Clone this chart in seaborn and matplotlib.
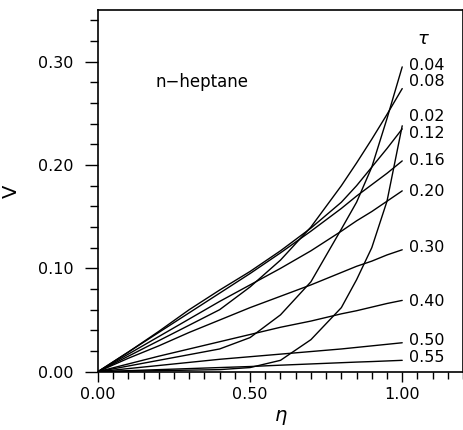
import matplotlib
matplotlib.use("Agg")
import matplotlib.pyplot as plt
from matplotlib.ticker import MultipleLocator, FormatStrFormatter
import pandas as pd
import seaborn as sns

# ==========================================
# DATA
# ==========================================
eta = [0.0, 0.1, 0.2, 0.3, 0.4, 0.5, 0.6, 0.7, 0.8, 0.85, 0.9, 0.95, 1.0]

v_002 = [0, 0.0005, 0.001, 0.0015, 0.002, 0.004, 0.011, 0.031, 0.062, 0.089, 0.120, 0.165, 0.238]
v_004 = [0, 0.0055, 0.011, 0.0165, 0.022, 0.033, 0.055, 0.087, 0.138, 0.164, 0.198, 0.245, 0.295]
v_008 = [0, 0.015, 0.030, 0.045, 0.060, 0.082, 0.108, 0.140, 0.180, 0.202, 0.225, 0.249, 0.274]
v_012 = [0, 0.019, 0.039, 0.060, 0.079, 0.097, 0.117, 0.139, 0.164, 0.180, 0.198, 0.216, 0.235]
v_016 = [0, 0.019, 0.038, 0.057, 0.076, 0.095, 0.115, 0.136, 0.158, 0.170, 0.181, 0.192, 0.204]
v_020 = [0, 0.017, 0.034, 0.051, 0.068, 0.084, 0.100, 0.117, 0.136, 0.146, 0.155, 0.165, 0.175]
v_030 = [0, 0.013, 0.025, 0.038, 0.050, 0.062, 0.073, 0.084, 0.096, 0.102, 0.107, 0.113, 0.118]
v_040 = [0, 0.0075, 0.015, 0.022, 0.029, 0.036, 0.043, 0.049, 0.056, 0.059, 0.0625, 0.066, 0.069]
v_050 = [0, 0.003, 0.006, 0.009, 0.012, 0.0145, 0.017, 0.0195, 0.022, 0.0235, 0.025, 0.0265, 0.028]
v_055 = [0, 0.001, 0.002, 0.003, 0.004, 0.005, 0.0063, 0.0075, 0.0087, 0.0093, 0.0098, 0.0104, 0.011]

tau_labels = ["0.02", "0.04", "0.08", "0.12", "0.16", "0.20", "0.30", "0.40", "0.50", "0.55"]
curves = [v_002, v_004, v_008, v_012, v_016, v_020, v_030, v_040, v_050, v_055]

# labels stacked at the right end, in the order they appear top to bottom
label_order = ["0.04", "0.08", "0.02", "0.12", "0.16", "0.20", "0.30", "0.40", "0.50", "0.55"]
label_y = [0.296, 0.281, 0.247, 0.231, 0.204, 0.174, 0.120, 0.068, 0.030, 0.014]

# long table for seaborn
rows = []
for lab, vals in zip(tau_labels, curves):
    for e, v in zip(eta, vals):
        rows.append({"eta": e, "V": v, "tau": lab})
df = pd.DataFrame(rows)

# ==========================================
# PLOT
# ==========================================
sns.set_theme(style="ticks")
plt.rcParams["font.family"] = ["DejaVu Sans"]
plt.rcParams["text.color"] = "black"
plt.rcParams["axes.labelcolor"] = "black"

fig = plt.figure(figsize=(4.64, 4.30), dpi=100)
ax = fig.add_axes([0.211, 0.1356, 0.787, 0.841])

sns.lineplot(
    data=df, x="eta", y="V", hue="tau",
    palette=["black"] * len(tau_labels),
    estimator=None, sort=False, linewidth=1.0,
    legend=False, ax=ax,
)

ax.set_xlim(0, 1.2)
ax.set_ylim(0, 0.35)

ax.xaxis.set_major_locator(MultipleLocator(0.5))
ax.xaxis.set_minor_locator(MultipleLocator(0.05))
ax.yaxis.set_major_locator(MultipleLocator(0.1))
ax.yaxis.set_minor_locator(MultipleLocator(0.02))
ax.xaxis.set_major_formatter(FormatStrFormatter("%.2f"))
ax.yaxis.set_major_formatter(FormatStrFormatter("%.2f"))

ax.tick_params(axis="y", which="major", direction="out", length=9.5, width=1.0,
               labelsize=11.5, colors="black", pad=8)
ax.tick_params(axis="y", which="minor", direction="out", length=5.5, width=1.0,
               colors="black")
ax.tick_params(axis="x", which="major", direction="out", length=7, width=1.0,
               labelsize=11.5, colors="black", pad=4)
ax.tick_params(axis="x", which="minor", direction="out", length=5, width=1.0,
               colors="black")

for s in ax.spines.values():
    s.set_color("black")
    s.set_linewidth(1.2)

ax.set_xlabel(r"$\eta$", fontsize=14, labelpad=4)
ax.set_ylabel("V", fontsize=14, labelpad=12)

# annotations
ax.text(0.19, 0.28, "n\u2212heptane", fontsize=12, va="center", ha="left")
ax.text(1.07, 0.322, r"$\tau$", fontsize=13, va="center", ha="center")
for lab, y in zip(label_order, label_y):
    ax.text(1.022, y, lab, fontsize=11.5, va="center", ha="left", clip_on=False)

fig.savefig("out.png", dpi=100)
plt.close(fig)
